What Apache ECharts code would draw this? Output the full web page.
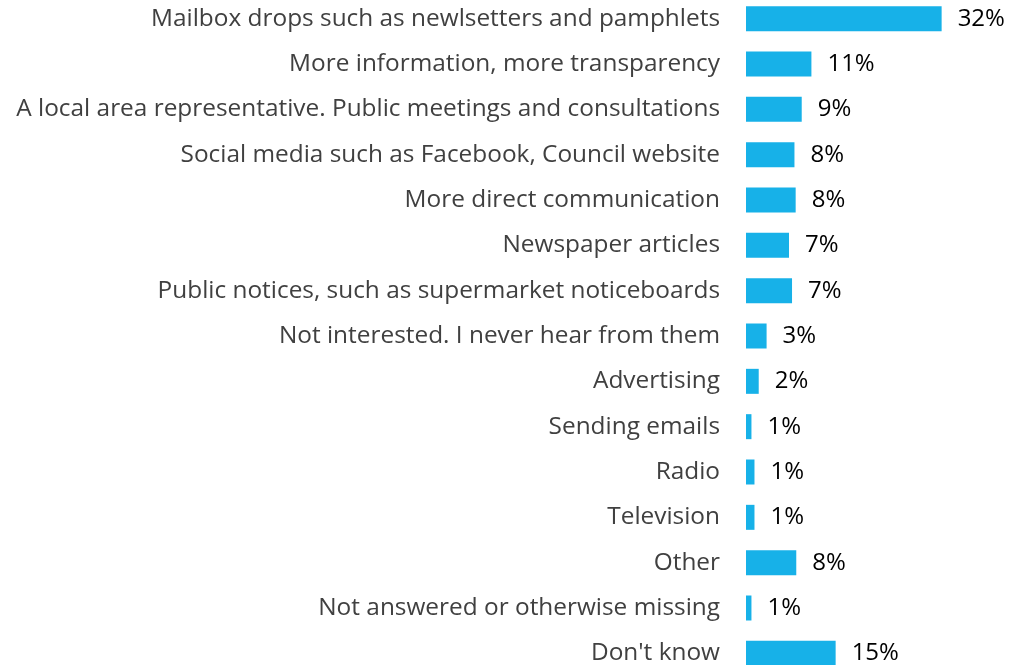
<!DOCTYPE html>
<html><head><meta charset="utf-8">
<script src="https://cdn.jsdelivr.net/npm/echarts@6/dist/echarts.min.js"></script>
<style>html,body{margin:0;padding:0;background:#fff;}#c{width:1024px;height:665px;}</style>
</head><body><div id="c"></div>
<script>
const categories = [
  "Mailbox drops such as newlsetters and pamphlets",
  "More information, more transparency",
  "A local area representative. Public meetings and consultations",
  "Social media such as Facebook, Council website",
  "More direct communication",
  "Newspaper articles",
  "Public notices, such as supermarket noticeboards",
  "Not interested. I never hear from them",
  "Advertising",
  "Sending emails",
  "Radio",
  "Television",
  "Other",
  "Not answered or otherwise missing",
  "Don't know"
];
const values = [32.3, 10.8, 9.2, 8.0, 8.2, 7.1, 7.6, 3.4, 2.1, 0.9, 1.4, 1.4, 8.3, 0.9, 14.8];
const valueLabels = ["32%","11%","9%","8%","8%","7%","7%","3%","2%","1%","1%","1%","8%","1%","15%"];

const chart = echarts.init(document.getElementById('c'));
chart.setOption({
  animation: false,
  grid: { left: 746, right: 0, top: -4, height: 680, containLabel: false, outerBoundsMode: 'none' },
  xAxis: { type: 'value', min: 0, max: 45.9, show: false },
  yAxis: {
    type: 'category', inverse: true, data: categories,
    axisLine: { show: false }, axisTick: { show: false },
    axisLabel: { margin: 26, color: '#404040', fontFamily: 'Open Sans', fontSize: 24.4 }
  },
  series: [{
    type: 'bar', data: values, barWidth: 25,
    itemStyle: { color: '#17B1E8' },
    label: {
      show: true, position: 'right', distance: 16,
      color: '#000', fontFamily: 'Open Sans', fontSize: 24,
      formatter: p => valueLabels[p.dataIndex]
    }
  }]
});
</script></body></html>
